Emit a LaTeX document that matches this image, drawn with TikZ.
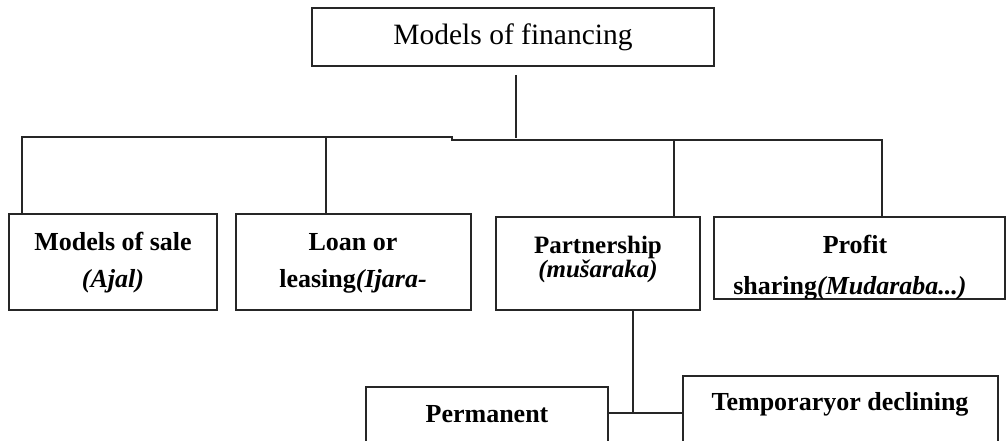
\documentclass[tikz,border=0pt]{standalone}
\usepackage{fontspec}
\setmainfont{Liberation Serif}
\begin{document}
\begin{tikzpicture}[x=1pt,y=-1pt,
  box/.style={draw=black!85,line width=1.4pt,inner sep=0pt,outer sep=0pt,anchor=north west},
  conn/.style={draw=black!85,line width=1.3pt},
  lbl/.style={anchor=base,inner sep=0pt,font=\fontsize{26}{30}\selectfont\bfseries},
  ttl/.style={anchor=base,inner sep=0pt,font=\fontsize{29.5}{34}\selectfont}]
\useasboundingbox (0,0) rectangle (1006,441);
\clip (0,0) rectangle (1006,441);
% top box
\node[box,minimum width=402pt,minimum height=58pt] (top) at (312,8) {};
\node[ttl] (toptxt) at (513,45) {Models of financing};
% second level boxes
\node[box,minimum width=208pt,minimum height=96pt] (sale) at (9,214) {};
\node[box,minimum width=235pt,minimum height=96pt] (loan) at (236,214) {};
\node[box,minimum width=204pt,minimum height=93pt] (part) at (496,217) {};
\node[box,minimum width=291pt,minimum height=82pt] (prof) at (714,217) {};
% third level boxes
\node[box,minimum width=242pt,minimum height=80pt] (perm) at (366,387) {};
\node[box,minimum width=315pt,minimum height=90pt] (temp) at (683,376) {};
% texts
\node[lbl] (saleA) at (113,250) {Models of sale};
\node[lbl] (saleB) at (113,287) {\itshape (Ajal)};
\node[lbl] (loanA) at (353,250) {Loan or};
\node[lbl] (loanB) at (353,287) {leasing\textit{(Ijara-}};
\node[lbl,font=\fontsize{25}{28}\selectfont\bfseries] (partA) at (598,253) {Partnership};
\node[lbl,font=\fontsize{25}{28}\selectfont\bfseries] (partB) at (598,277) {\itshape (mušaraka)};
\node[lbl] (profA) at (855,253) {Profit};
\begin{scope}
\clip (715,218) rectangle (1004,298);
\node[lbl] (profB) at (850,294) {sharing\textit{(Mudaraba...)}};
\end{scope}
\node[lbl] (permA) at (487,422) {Permanent};
\node[lbl] (tempA) at (840,410) {Temporaryor declining};
% connectors
\coordinate (stemTop) at (516,75);
\coordinate (stemBot) at (516,138);
\coordinate (busL) at (22,137);
\coordinate (step) at (452,137);
\coordinate (busR) at (882,140);
\draw[conn] (stemTop) -- (stemBot);
\draw[conn] (sale.north west -| busL) -- (busL) -- (step) -- ++(0,3) -- (busR) -- (busR |- prof.north);
\draw[conn] (326,137) -- (loan.north -| 326,0);
\draw[conn] (674,140) -- (part.north -| 674,0);
\coordinate (junc) at (633,413);
\draw[conn] (part.south -| junc) -- (junc);
\draw[conn] (perm.east |- junc) -- (temp.west |- junc);
\end{tikzpicture}
\end{document}
